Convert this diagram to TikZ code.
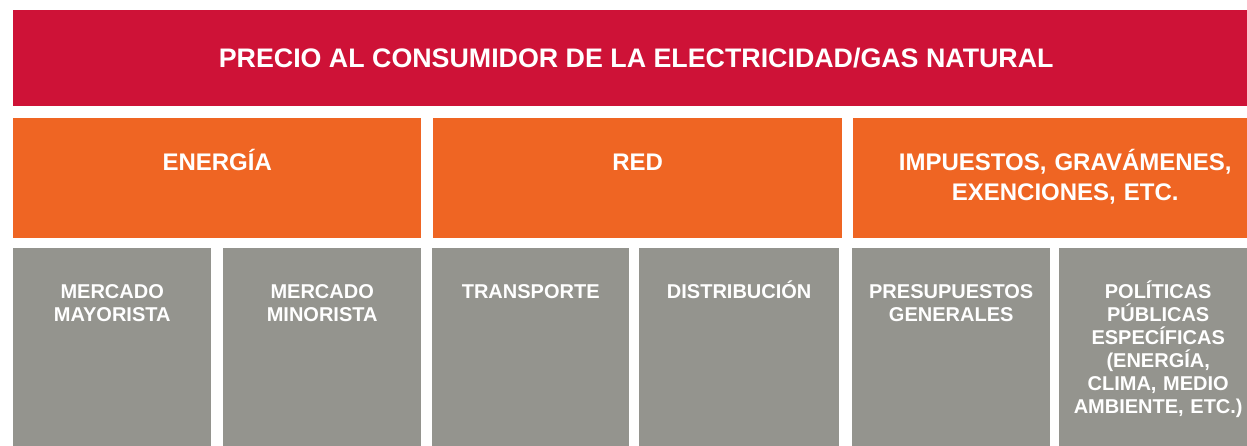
\documentclass[tikz,border=0pt]{standalone}
\usepackage{fontspec}
\setmainfont{Liberation Sans}
\definecolor{rojo}{HTML}{CE1237}
\definecolor{naranja}{HTML}{EF6523}
\definecolor{gris}{HTML}{94948E}
\begin{document}
\begin{tikzpicture}[x=1pt,y=-1pt,inner sep=0pt,text=white,font=\bfseries,
	banda/.style={fill=rojo,anchor=north west,minimum width=1246pt,minimum height=96pt,font=\bfseries\fontsize{26.8}{32}\selectfont},
	bloque/.style={fill=naranja,anchor=north west,minimum height=120pt},
	celda/.style={fill=gris,anchor=north west,minimum height=210pt},
	txtbloque/.style={anchor=base,text width=400pt,align=center,font=\bfseries\fontsize{24}{30}\selectfont},
	txtcelda/.style={anchor=base,text width=190pt,align=center,font=\bfseries\fontsize{20}{23}\selectfont}]
				\path[use as bounding box,clip] (0,0) rectangle (1247,445);
				\def\yb{118}
				\def\yc{248}
				\node[banda] (precio) at (13,10) {PRECIO AL CONSUMIDOR DE LA ELECTRICIDAD/GAS NATURAL};
				% fila naranja
				\path
				(13,\yb) node[bloque,minimum width=408pt] (energia) {}
				(433,\yb) node[bloque,minimum width=409pt] (red) {}
				(853,\yb) node[bloque,minimum width=424pt] (impuestos) {}
				;
				\node[txtbloque] (tenergia) at ([yshift=-52pt]energia.north) {ENERGÍA};
				\node[txtbloque] (tred) at ([yshift=-52pt]red.north) {RED};
				\node[txtbloque] (timpuestos) at ([yshift=-52pt]impuestos.north) {IMPUESTOS, GRAVÁMENES,\\EXENCIONES, ETC.};
				% fila gris
				\path
				(13,\yc) node[celda,minimum width=198pt] (mayorista) {}
				(223,\yc) node[celda,minimum width=198pt] (minorista) {}
				(432,\yc) node[celda,minimum width=197pt] (transporte) {}
				(639,\yc) node[celda,minimum width=200pt] (distribucion) {}
				(852,\yc) node[celda,minimum width=198pt] (presupuestos) {}
				(1059,\yc) node[celda,minimum width=198pt] (politicas) {}
				;
				\node[txtcelda] (tmayorista) at ([yshift=-50pt]mayorista.north) {MERCADO\\MAYORISTA};
				\node[txtcelda] (tminorista) at ([yshift=-50pt]minorista.north) {MERCADO\\MINORISTA};
				\node[txtcelda] (ttransporte) at ([yshift=-50pt]transporte.north) {TRANSPORTE};
				\node[txtcelda] (tdistribucion) at ([yshift=-50pt]distribucion.north) {DISTRIBUCIÓN};
				\node[txtcelda] (tpresupuestos) at ([yshift=-50pt]presupuestos.north) {PRESUPUESTOS\\GENERALES};
				\node[txtcelda] (tpoliticas) at ([yshift=-50pt]politicas.north) {POLÍTICAS\\PÚBLICAS\\ESPECÍFICAS\\(ENERGÍA,\\CLIMA, MEDIO\\AMBIENTE, ETC.)};
\end{tikzpicture}
\end{document}
